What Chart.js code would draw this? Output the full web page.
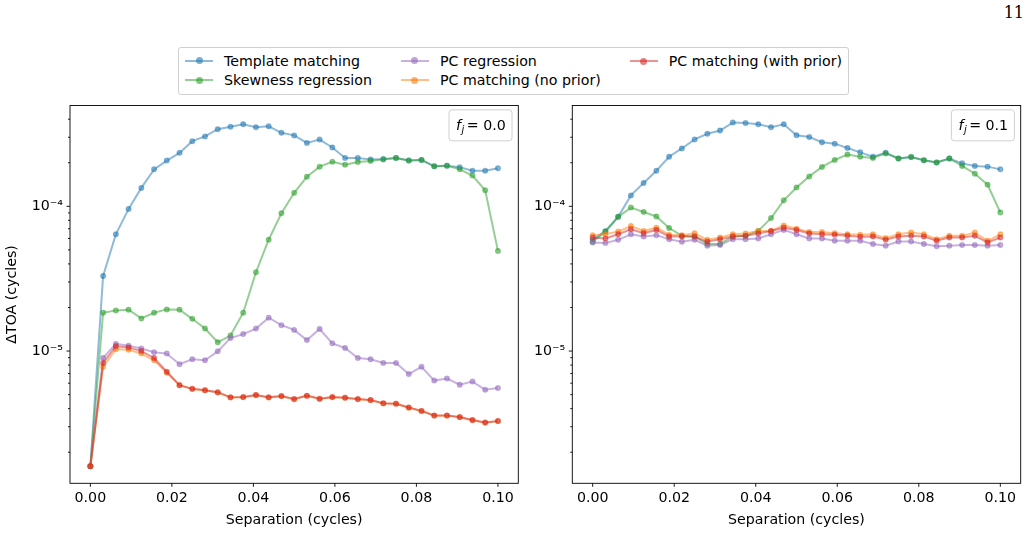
<!DOCTYPE html>
<html>
<head>
<meta charset="utf-8">
<script src="https://cdn.jsdelivr.net/npm/chart.js@4.4.0/dist/chart.umd.min.js"></script>
<style>
body { margin: 0; width: 1030px; height: 534px; background: #fff; position: relative; overflow: hidden; font-family: "DejaVu Sans"; }
#pagenum { position: absolute; right: 6px; top: 3px; font-family: "DejaVu Serif"; font-size: 16px; color: #000; }
#leftPanel { position: absolute; left: 0; top: 90px; }
#rightPanel { position: absolute; left: 530px; top: 90px; }
#legend { position: absolute; left: 178px; top: 47px; height: 39px; padding: 3px 6px 4px 6px; border: 1px solid #d0d0d0; border-radius: 3px; display: flex; gap: 29px; font-size: 14.2px; background: #fff; }
.col { display: flex; flex-direction: column; }
.item { display: flex; align-items: center; height: 20px; white-space: nowrap; }
.handle { position: relative; width: 28px; height: 2px; margin-right: 11px; }
.dot { position: absolute; left: 10.5px; top: -2.5px; width: 7px; height: 7px; border-radius: 50%; }
</style>
</head>
<body>
<div id="pagenum">11</div>
<div id="legend"></div>
<canvas id="leftPanel" width="530" height="444" style="width:530px;height:444px"></canvas>
<canvas id="rightPanel" width="500" height="444" style="width:500px;height:444px"></canvas>
<script>
Chart.defaults.font.family = "DejaVu Sans";
Chart.defaults.font.size = 14.2;
Chart.defaults.color = '#000';

// Separation values (cycles), shared by both panels
const separation = [0, 0.003125, 0.00625, 0.009375, 0.0125, 0.015625, 0.01875, 0.021875, 0.025, 0.028125,
	0.03125, 0.034375, 0.0375, 0.040625, 0.04375, 0.046875, 0.05, 0.053125, 0.05625, 0.059375,
	0.0625, 0.065625, 0.06875, 0.071875, 0.075, 0.078125, 0.08125, 0.084375, 0.0875, 0.090625,
	0.09375, 0.096875, 0.1];

const seriesNames = ['Template matching', 'Skewness regression', 'PC regression', 'PC matching (no prior)', 'PC matching (with prior)'];
const seriesColors = ['31,119,180', '44,160,44', '148,103,189', '255,127,14', '214,39,40'];
const panelTags = ['0.0', '0.1'];

// Panel f_j = 0.0
const templateLeft = [1.6e-6, 3.3e-5, 6.4e-5, 9.6e-5, 1.34e-4, 1.80e-4, 2.07e-4, 2.34e-4, 2.82e-4, 3.04e-4, 3.41e-4, 3.54e-4, 3.69e-4, 3.52e-4, 3.57e-4, 3.22e-4, 3.09e-4, 2.74e-4, 2.89e-4, 2.55e-4, 2.16e-4, 2.16e-4, 2.11e-4, 2.12e-4, 2.16e-4, 2.07e-4, 2.09e-4, 1.89e-4, 1.91e-4, 1.86e-4, 1.76e-4, 1.76e-4, 1.83e-4];
const skewLeft = [1.6e-6, 1.84e-5, 1.91e-5, 1.93e-5, 1.68e-5, 1.84e-5, 1.94e-5, 1.93e-5, 1.67e-5, 1.43e-5, 1.15e-5, 1.28e-5, 1.84e-5, 3.50e-5, 5.88e-5, 8.96e-5, 1.24e-4, 1.60e-4, 1.88e-4, 2.03e-4, 1.94e-4, 2.02e-4, 2.06e-4, 2.11e-4, 2.16e-4, 2.07e-4, 2.09e-4, 1.89e-4, 1.91e-4, 1.80e-4, 1.63e-4, 1.29e-4, 4.92e-5];
const pcRegLeft = [1.6e-6, 8.96e-6, 1.12e-5, 1.09e-5, 1.04e-5, 9.8e-6, 9.6e-6, 8.12e-6, 8.78e-6, 8.64e-6, 9.95e-6, 1.23e-5, 1.31e-5, 1.43e-5, 1.70e-5, 1.51e-5, 1.40e-5, 1.19e-5, 1.42e-5, 1.13e-5, 1.05e-5, 8.96e-6, 8.78e-6, 8.28e-6, 8.26e-6, 6.93e-6, 7.78e-6, 6.25e-6, 6.45e-6, 5.85e-6, 6.15e-6, 5.40e-6, 5.55e-6];
const noPriorLeft = [1.6e-6, 7.78e-6, 1.03e-5, 1.02e-5, 9.6e-6, 8.64e-6, 7.08e-6, 5.81e-6, 5.46e-6, 5.36e-6, 5.18e-6, 4.78e-6, 4.80e-6, 4.95e-6, 4.78e-6, 4.88e-6, 4.64e-6, 4.90e-6, 4.67e-6, 4.80e-6, 4.75e-6, 4.65e-6, 4.58e-6, 4.35e-6, 4.32e-6, 4.06e-6, 3.85e-6, 3.58e-6, 3.58e-6, 3.49e-6, 3.33e-6, 3.20e-6, 3.28e-6];
const priorLeft = [1.6e-6, 8.28e-6, 1.08e-5, 1.06e-5, 1.00e-5, 8.96e-6, 7.19e-6, 5.81e-6, 5.48e-6, 5.37e-6, 5.20e-6, 4.79e-6, 4.81e-6, 4.97e-6, 4.79e-6, 4.89e-6, 4.66e-6, 4.92e-6, 4.68e-6, 4.81e-6, 4.76e-6, 4.66e-6, 4.59e-6, 4.36e-6, 4.33e-6, 4.07e-6, 3.86e-6, 3.59e-6, 3.59e-6, 3.50e-6, 3.34e-6, 3.21e-6, 3.29e-6];

// Panel f_j = 0.1
const templateRight = [5.88e-5, 6.73e-5, 8.46e-5, 1.19e-4, 1.45e-4, 1.76e-4, 2.20e-4, 2.51e-4, 2.90e-4, 3.17e-4, 3.34e-4, 3.79e-4, 3.76e-4, 3.69e-4, 3.52e-4, 3.69e-4, 3.10e-4, 3.01e-4, 2.77e-4, 2.71e-4, 2.53e-4, 2.36e-4, 2.20e-4, 2.34e-4, 2.14e-4, 2.19e-4, 2.08e-4, 2.01e-4, 2.14e-4, 1.98e-4, 1.90e-4, 1.88e-4, 1.80e-4];
const skewRight = [5.66e-5, 6.70e-5, 8.46e-5, 9.80e-5, 9.14e-5, 8.51e-5, 7.08e-5, 6.27e-5, 6.18e-5, 5.50e-5, 5.50e-5, 6.18e-5, 6.25e-5, 6.76e-5, 8.29e-5, 1.10e-4, 1.35e-4, 1.61e-4, 1.87e-4, 2.09e-4, 2.28e-4, 2.20e-4, 2.16e-4, 2.32e-4, 2.14e-4, 2.19e-4, 2.08e-4, 2.01e-4, 2.14e-4, 1.90e-4, 1.68e-4, 1.41e-4, 9.06e-5];
const pcRegRight = [5.63e-5, 5.57e-5, 5.87e-5, 6.41e-5, 6.18e-5, 6.32e-5, 5.93e-5, 5.69e-5, 5.87e-5, 5.35e-5, 5.40e-5, 5.93e-5, 5.93e-5, 6.00e-5, 6.41e-5, 6.87e-5, 6.41e-5, 6.00e-5, 6.00e-5, 5.78e-5, 5.78e-5, 5.78e-5, 5.49e-5, 5.35e-5, 5.72e-5, 5.72e-5, 5.49e-5, 5.29e-5, 5.35e-5, 5.40e-5, 5.40e-5, 5.35e-5, 5.40e-5];
const noPriorRight = [6.32e-5, 6.41e-5, 6.69e-5, 7.31e-5, 6.76e-5, 7.12e-5, 6.35e-5, 6.32e-5, 6.52e-5, 5.87e-5, 6.09e-5, 6.41e-5, 6.49e-5, 6.76e-5, 6.76e-5, 7.38e-5, 7.01e-5, 6.65e-5, 6.65e-5, 6.52e-5, 6.41e-5, 6.35e-5, 6.41e-5, 6.03e-5, 6.41e-5, 6.59e-5, 6.41e-5, 5.93e-5, 6.25e-5, 6.25e-5, 6.59e-5, 5.78e-5, 6.41e-5];
const priorRight = [6.09e-5, 6.00e-5, 6.41e-5, 6.94e-5, 6.52e-5, 6.87e-5, 6.18e-5, 6.18e-5, 6.18e-5, 5.69e-5, 5.93e-5, 6.18e-5, 6.25e-5, 6.49e-5, 6.76e-5, 7.12e-5, 6.87e-5, 6.49e-5, 6.41e-5, 6.35e-5, 6.25e-5, 6.15e-5, 6.18e-5, 5.87e-5, 6.18e-5, 6.25e-5, 6.18e-5, 5.78e-5, 6.09e-5, 6.09e-5, 6.25e-5, 5.63e-5, 6.09e-5];

// Axis ticks
const xTickValues = [0, 0.02, 0.04, 0.06, 0.08, 0.1];
const yMajorTicks = [1e-5, 1e-4];
const yMinorTicks = [2e-6, 3e-6, 4e-6, 5e-6, 6e-6, 7e-6, 8e-6, 9e-6, 2e-5, 3e-5, 4e-5, 5e-5, 6e-5, 7e-5, 8e-5, 9e-5, 2e-4, 3e-4, 4e-4];
const yTickLabels = {'1e-5': '10⁻⁵', '1e-4': '10⁻⁴'};
const xMin = -0.005, xMax = 0.105, yMin = 1.22e-6, yMax = 4.97e-4;

// Build legend (column-major like matplotlib ncol=3)
(function buildLegend() {
	const legend = document.getElementById('legend');
	const cols = [[0, 1], [2, 3], [4]];
	cols.forEach(idxs => {
		const col = document.createElement('div');
		col.className = 'col';
		idxs.forEach(k => {
			const item = document.createElement('div');
			item.className = 'item';
			const h = document.createElement('span');
			h.className = 'handle';
			h.style.background = 'rgba(' + seriesColors[k] + ',0.5)';
			const d = document.createElement('span');
			d.className = 'dot';
			d.style.background = 'rgba(' + seriesColors[k] + ',0.6)';
			h.appendChild(d);
			item.appendChild(h);
			item.appendChild(document.createTextNode(seriesNames[k]));
			col.appendChild(item);
		});
		legend.appendChild(col);
	});
})();

// Axes frame and tick marks, matplotlib style
const framePlugin = {
	id: 'frame',
	afterDraw(chart) {
		const {ctx, chartArea: a, scales: {x, y}} = chart;
		ctx.save();
		ctx.strokeStyle = '#000';
		ctx.lineWidth = 0.9;
		ctx.strokeRect(a.left, a.top, a.right - a.left, a.bottom - a.top);
		y.ticks.forEach(t => {
			const py = y.getPixelForValue(t.value);
			const len = t.major ? 3.5 : 2;
			ctx.beginPath();
			ctx.moveTo(a.left, py);
			ctx.lineTo(a.left - len, py);
			ctx.stroke();
		});
		x.ticks.forEach(t => {
			const px = x.getPixelForValue(t.value);
			ctx.beginPath();
			ctx.moveTo(px, a.bottom);
			ctx.lineTo(px, a.bottom + 3.5);
			ctx.stroke();
		});
		ctx.restore();
	}
};

// f_j annotation box in top-right corner
const tagPlugin = {
	id: 'tag',
	afterDraw(chart, args, opts) {
		const {ctx, chartArea: a} = chart;
		const w = 63, h = 31;
		const x0 = a.right - 6.3 - w, y0 = a.top + 4.3;
		ctx.save();
		ctx.beginPath();
		ctx.roundRect(x0, y0, w, h, 3);
		ctx.fillStyle = 'rgba(255,255,255,0.8)';
		ctx.fill();
		ctx.strokeStyle = '#d0d0d0';
		ctx.lineWidth = 1;
		ctx.stroke();
		ctx.fillStyle = '#000';
		ctx.textBaseline = 'alphabetic';
		let tx = x0 + 7, base = y0 + 20.5;
		ctx.font = 'italic 14.2px "DejaVu Sans"';
		ctx.fillText('f', tx, base);
		tx += ctx.measureText('f').width + 0.5;
		ctx.font = 'italic 9.9px "DejaVu Sans"';
		ctx.fillText('j', tx, base + 3);
		tx += ctx.measureText('j').width + 2.5;
		ctx.font = '14.2px "DejaVu Sans"';
		ctx.fillText('= ' + opts.text, tx, base);
		ctx.restore();
	}
};

function makePanel(canvasId, series, tag, withYTitle, yAxisWidth, padRight) {
	const datasets = series.map((vals, k) => ({
		label: seriesNames[k],
		data: separation.map((s, i) => ({x: s, y: vals[i]})),
		borderColor: 'rgba(' + seriesColors[k] + ',0.5)',
		backgroundColor: 'rgba(' + seriesColors[k] + ',0.5)',
		pointBackgroundColor: 'rgba(' + seriesColors[k] + ',0.5)',
		pointBorderColor: 'rgba(' + seriesColors[k] + ',0.5)',
		borderWidth: 2,
		pointRadius: 2.4,
		pointBorderWidth: 1.2,
		tension: 0,
		order: 5 - k
	}));
	return new Chart(canvasId, {
		type: 'line',
		data: {datasets: datasets},
		options: {
			responsive: false,
			animation: false,
			devicePixelRatio: 1,
			layout: {padding: {top: 9.7, right: padRight, left: 0, bottom: 0}},
			plugins: {
				legend: {display: false},
				tooltip: {enabled: false},
				tag: {text: tag}
			},
			scales: {
				x: {
					type: 'linear',
					min: xMin,
					max: xMax,
					afterBuildTicks: s => { s.ticks = xTickValues.map(v => ({value: v})); },
					afterFit: s => { s.height = 50.7; },
					grid: {display: false, drawTicks: false},
					border: {display: false},
					ticks: {padding: 7, autoSkip: false, maxRotation: 0, callback: v => v.toFixed(2)},
					title: {display: true, text: 'Separation (cycles)', padding: {top: 2, bottom: 5}}
				},
				y: {
					type: 'logarithmic',
					min: yMin,
					max: yMax,
					afterBuildTicks: s => {
						s.ticks = yMinorTicks.map(v => ({value: v, major: false}))
							.concat(yMajorTicks.map(v => ({value: v, major: true})))
							.sort((p, q) => p.value - q.value);
					},
					afterFit: s => { s.width = yAxisWidth; },
					grid: {display: false, drawTicks: false},
					border: {display: false},
					ticks: {padding: 7, autoSkip: false, callback: v => yTickLabels[v.toExponential().replace('.0', '')] || ''},
					title: {display: withYTitle, text: 'ΔTOA (cycles)', padding: {top: 4, bottom: 4}}
				}
			}
		},
		plugins: [framePlugin, tagPlugin]
	});
}

makePanel('leftPanel', [templateLeft, skewLeft, pcRegLeft, noPriorLeft, priorLeft], panelTags[0], true, 70, 11.7);
makePanel('rightPanel', [templateRight, skewRight, pcRegRight, noPriorRight, priorRight], panelTags[1], false, 42.3, 9.3);
</script>
</body>
</html>
